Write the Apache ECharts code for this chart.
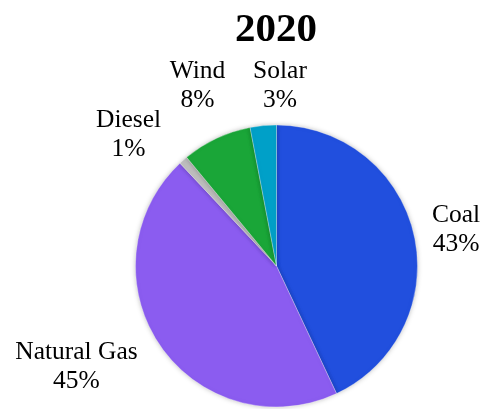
<!DOCTYPE html>
<html>
<head>
<meta charset="utf-8">
<script src="https://cdn.jsdelivr.net/npm/echarts@6/dist/echarts.min.js"></script>
<style>
  html, body { margin: 0; padding: 0; background: #fff; }
  #main { width: 485px; height: 409px; }
</style>
</head>
<body>
<div id="main"></div>
<script>
// 2020 electricity mix
var sources = ['Coal', 'Natural Gas', 'Diesel', 'Wind', 'Solar'];
var shares = [43, 45, 1, 8, 3];
var colors = ['#214fde', '#8b5cf0', '#bebebe', '#1aa638', '#00a0c8'];
// label line lengths per slice, only used to place the labels (lines hidden)
var lineLen = [24.1, 38.7, 33.6, 57.9, 39.8];
var lineLen2 = [18.4, 51.4, 32.5, -5.7, -20.5];

var pieData = [];
for (var i = 0; i < sources.length; i++) {
  pieData.push({
    name: sources[i],
    value: shares[i],
    itemStyle: { color: colors[i] },
    labelLine: { show: false, length: lineLen[i], length2: lineLen2[i] }
  });
}

var myChart = echarts.init(document.getElementById('main'));
var option = {
  animation: false,
  title: {
    text: '2020',
    left: 230,
    top: 5,
    textStyle: {
      fontFamily: 'Liberation Serif',
      fontSize: 41,
      fontWeight: 'bold',
      color: '#000'
    }
  },
  series: [
    {
      type: 'pie',
      center: [276.5, 266],
      radius: 141,
      startAngle: 90,
      clockwise: true,
      avoidLabelOverlap: false,
      itemStyle: {
        borderColor: 'rgba(255,255,255,0.6)',
        borderWidth: 0.5,
        shadowBlur: 5,
        shadowColor: 'rgba(0,0,0,0.25)'
      },
      label: {
        show: true,
        position: 'outside',
        alignTo: 'none',
        distanceToLabelLine: 0,
        formatter: function (p) {
          return p.name + '\n' + p.value + '%';
        },
        fontFamily: 'Liberation Serif',
        fontSize: 25.5,
        lineHeight: 29,
        color: '#000'
      },
      labelLayout: { align: 'center' },
      emphasis: { disabled: true },
      data: pieData
    }
  ]
};
myChart.setOption(option);
</script>
</body>
</html>
